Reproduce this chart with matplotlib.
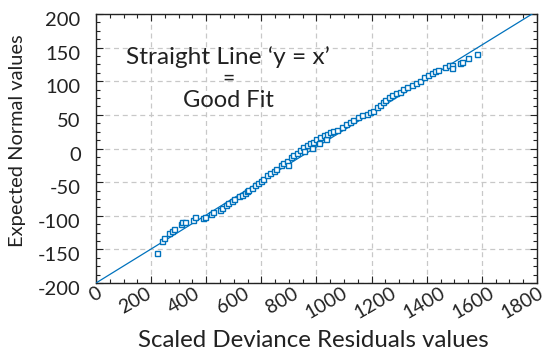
import numpy as np
import matplotlib.pyplot as plt
import matplotlib.transforms as mtrans
from matplotlib.ticker import MultipleLocator

plt.rcParams['font.family'] = ['Lato', 'DejaVu Sans']
plt.rcParams['axes.unicode_minus'] = False

# residual (x) vs expected normal (y)
res_x = [248, 270, 278, 300, 310, 320, 345, 352, 365, 395, 404, 438, 445, 470, 479,
         505, 513, 530, 540, 555, 562, 585, 595, 608, 615, 622, 635, 649, 660, 675,
         683, 700, 710, 725, 735, 755, 765, 780, 785, 795, 805, 820, 833, 845, 850,
         860, 872, 880, 887, 900, 910, 914, 930, 940, 942, 955, 968, 982, 1003, 1020,
         1037, 1050, 1071, 1085, 1105, 1120, 1132, 1145, 1159, 1170, 1180, 1195, 1207,
         1225, 1241, 1255, 1268, 1289, 1305, 1322, 1340, 1355, 1370, 1385, 1397, 1425,
         1440, 1452, 1452, 1485, 1492, 1519, 1554]
exp_y = [-155, -137, -133, -126, -123, -119, -112, -110, -110, -106, -102, -103, -102, -98, -95,
         -91, -89, -84, -81, -78, -75, -71, -69, -66, -63, -62, -58, -54, -51, -48,
         -45, -40, -37, -34, -31, -25, -22, -19, -24, -13, -10, -6, -2, 2, -4,
         5, 8, 1, 10, 14, 8, 17, 20, 14, 22, 24, 26, 28, 32, 36,
         40, 43, 47, 50, 52, 54, 56, 61, 65, 69, 72, 76, 80,
         82, 84, 88, 91, 94, 97, 101, 106, 109, 112, 115, 117, 121,
         124, 124, 119, 127, 129, 134, 140]

# reference line 'y = x'
ref_x = [0, 1780]
ref_y = [-200, 200]

x_labels = list(range(0, 1801, 200))

blue = '#0072BD'
ink = '#222222'

fig = plt.figure(figsize=(5.45, 3.53), dpi=100)
ax = fig.add_axes([0.1761, 0.1983, 0.8092, 0.762])

ax.plot(ref_x, ref_y, color=blue, lw=0.9, zorder=3)
ax.plot(res_x, exp_y, ls='none', marker='s', ms=3.6, mfc='white', mec=blue, mew=1.0, zorder=4)

ax.set_xlim(0, 1800)
ax.set_ylim(-200, 200)
ax.xaxis.set_major_locator(MultipleLocator(225))
ax.xaxis.set_minor_locator(MultipleLocator(56.25))
ax.yaxis.set_major_locator(MultipleLocator(50))
ax.yaxis.set_minor_locator(MultipleLocator(12.5))
ax.tick_params(which='both', direction='in', top=True, right=True, width=0.8, color=ink)
ax.tick_params(which='major', length=5)
ax.tick_params(which='minor', length=3)
ax.tick_params(axis='x', labelbottom=False)
ax.tick_params(axis='y', labelsize=14.5, pad=11, labelcolor=ink)
ax.grid(True, which='major', ls=(0, (4, 3)), color='#c8c8c8', lw=0.9)
for s in ax.spines.values():
    s.set_linewidth(1.0)
    s.set_color(ink)

# y tick labels sit a little below their ticks in the original
off = mtrans.ScaledTranslation(0, -5 / 100, fig.dpi_scale_trans)
for lab in ax.get_yticklabels():
    lab.set_transform(lab.get_transform() + off)

# x tick labels: separate set, rotated
sec = ax.secondary_xaxis('bottom')
sec.set_xticks(x_labels)
sec.tick_params(length=0, labelsize=14, pad=1, labelcolor=ink)
sec.spines['bottom'].set_visible(False)
offx = mtrans.ScaledTranslation(9 / 100, 0, fig.dpi_scale_trans)
for lab in sec.get_xticklabels():
    lab.set_rotation(30)
    lab.set_ha('right')
    lab.set_transform(lab.get_transform() + offx)

ax.set_ylabel('Expected Normal values', fontsize=14.4, color=ink)
ax.yaxis.set_label_coords(-0.158, 0.53)
fig.text(0.575, 0.035, 'Scaled Deviance Residuals values', fontsize=17.3, color=ink,
         ha='center', va='center')

ax.text(0.30, 0.84, 'Straight Line \u2018y = x\u2019', transform=ax.transAxes, fontsize=17.6,
        ha='center', va='center', color=ink)
ax.text(0.30, 0.758, '=', transform=ax.transAxes, fontsize=15, ha='center', va='center', color=ink)
ax.text(0.30, 0.68, 'Good Fit', transform=ax.transAxes, fontsize=17,
        ha='center', va='center', color=ink)

fig.savefig('out.png', dpi=100)
